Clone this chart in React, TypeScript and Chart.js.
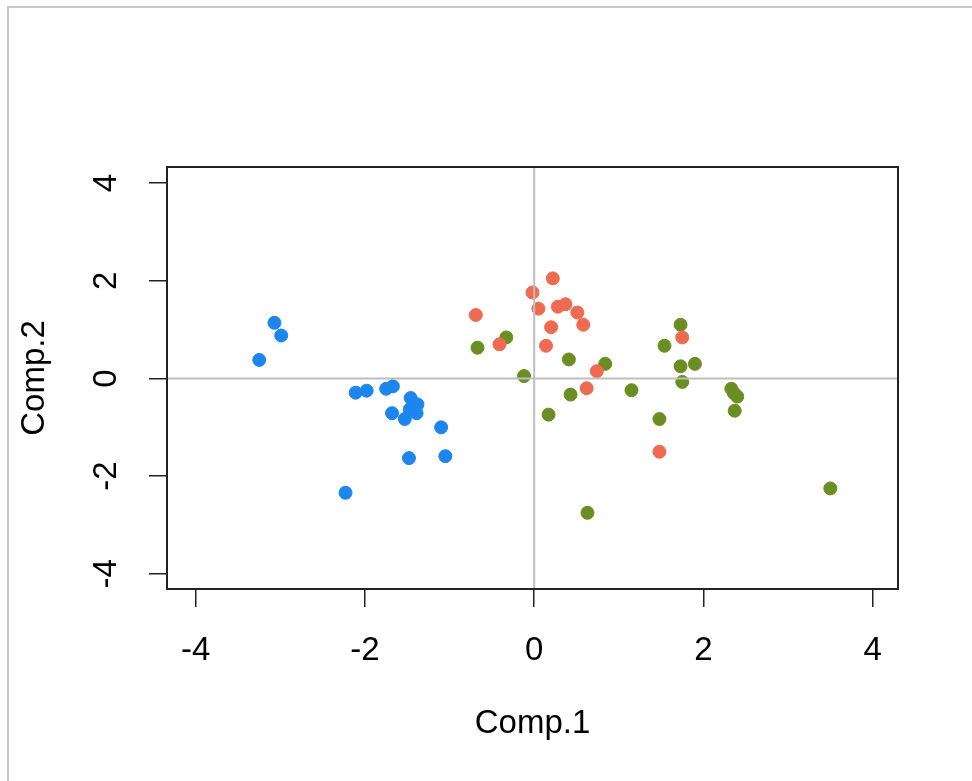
import React, { useEffect, useRef } from "react";
import { Chart, registerables } from "chart.js";

Chart.register(...registerables);

const tickValues = [-4, -2, 0, 2, 4];
const xLabel = "Comp.1";
const yLabel = "Comp.2";

const blueX = [-3.07, -2.99, -3.25, -2.11, -1.98, -1.75, -1.67, -1.46, -1.38, -1.68, -1.53, -1.39, -1.47, -1.10, -1.48, -1.05, -2.23];
const blueY = [1.14, 0.88, 0.38, -0.29, -0.25, -0.21, -0.16, -0.40, -0.53, -0.71, -0.83, -0.71, -0.63, -1.00, -1.63, -1.59, -2.34];

const redX = [0.22, -0.02, 0.05, 0.28, 0.37, 0.51, 0.58, 0.20, 0.14, -0.69, -0.41, 0.74, 0.62, 1.48, 1.75];
const redY = [2.05, 1.76, 1.43, 1.47, 1.52, 1.35, 1.10, 1.05, 0.67, 1.30, 0.70, 0.15, -0.20, -1.50, 0.84];

const greenX = [-0.33, -0.67, -0.12, 0.41, 0.84, 0.43, 0.17, 1.15, 1.48, 0.63, 1.54, 1.73, 1.73, 1.75, 1.90, 2.33, 2.36, 2.40, 2.37, 3.50];
const greenY = [0.84, 0.63, 0.05, 0.39, 0.30, -0.33, -0.74, -0.24, -0.83, -2.75, 0.67, 1.10, 0.25, -0.07, 0.30, -0.21, -0.30, -0.37, -0.66, -2.25];

const toPoints = (xs: number[], ys: number[]) => xs.map((x, i) => ({ x, y: ys[i] }));

const FONT = "'Liberation Sans', Arial, sans-serif";

const boxAndLines = {
  id: "boxAndLines",
  afterDatasetsDraw(chart: any) {
    const { ctx, chartArea, scales } = chart;
    ctx.save();
    ctx.beginPath();
    ctx.rect(chartArea.left, chartArea.top, chartArea.right - chartArea.left, chartArea.bottom - chartArea.top);
    ctx.clip();
    ctx.strokeStyle = "#BEBEBE";
    ctx.lineWidth = 2;
    const x0 = scales.x.getPixelForValue(0);
    const y0 = scales.y.getPixelForValue(0);
    ctx.beginPath();
    ctx.moveTo(x0, chartArea.top);
    ctx.lineTo(x0, chartArea.bottom);
    ctx.moveTo(chartArea.left, y0);
    ctx.lineTo(chartArea.right, y0);
    ctx.stroke();
    ctx.restore();
  },
  afterDraw(chart: any) {
    const { ctx, chartArea } = chart;
    ctx.save();
    ctx.strokeStyle = "#222";
    ctx.lineWidth = 2;
    ctx.strokeRect(chartArea.left, chartArea.top, chartArea.right - chartArea.left, chartArea.bottom - chartArea.top);
    ctx.restore();
  },
};

export default function App() {
  const ref = useRef<HTMLCanvasElement>(null);
  useEffect(() => {
    if (!ref.current) return;
    const ds = (label: string, xs: number[], ys: number[], color: string) => ({
      label,
      data: toPoints(xs, ys),
      backgroundColor: color,
      borderColor: color,
      pointRadius: 6.5,
      pointBorderWidth: 1,
      pointHoverRadius: 6.5,
    });
    const chart = new Chart(ref.current, {
      type: "scatter",
      data: {
        datasets: [
          ds("red", redX, redY, "#EE6A50"),
          ds("green", greenX, greenY, "#6B8E23"),
          ds("blue", blueX, blueY, "#1C86EE"),
        ],
      },
      plugins: [boxAndLines],
      options: {
        animation: false,
        responsive: false,
        maintainAspectRatio: false,
        layout: { padding: { left: 0, top: 159, right: 74, bottom: 0 } },
        plugins: { legend: { display: false }, tooltip: { enabled: false } },
        scales: {
          x: {
            type: "linear",
            min: -4.34,
            max: 4.3,
            afterBuildTicks: (s: any) => {
              s.ticks = tickValues.map((v) => ({ value: v }));
            },
            afterFit: (s: any) => {
              s.height = 185;
            },
            grid: { drawOnChartArea: false, tickLength: 18, color: "#222", lineWidth: 1.5 },
            border: { display: false },
            ticks: {
              color: "#000",
              font: { family: FONT, size: 33 },
              padding: 24,
              maxRotation: 0,
              autoSkip: false,
            },
            title: {
              display: true,
              text: xLabel,
              color: "#000",
              font: { family: FONT, size: 33 },
              padding: { top: 0, bottom: 30 },
            },
          },
          y: {
            type: "linear",
            min: -4.31,
            max: 4.33,
            afterBuildTicks: (s: any) => {
              s.ticks = tickValues.map((v) => ({ value: v }));
            },
            afterFit: (s: any) => {
              s.width = 158;
            },
            grid: { drawOnChartArea: false, tickLength: 18, color: "#222", lineWidth: 1.5 },
            border: { display: false },
            ticks: {
              color: "#000",
              font: { family: FONT, size: 33 },
              padding: 27,
              minRotation: 90,
              maxRotation: 90,
              crossAlign: "center",
              autoSkip: false,
            },
            title: {
              display: true,
              text: yLabel,
              color: "#000",
              font: { family: FONT, size: 33 },
              padding: { top: 6, bottom: 0 },
            },
          },
        },
      },
    });
    return () => chart.destroy();
  }, []);
  return (
    <div
      style={{
        position: "absolute",
        top: 6,
        left: 7,
        borderTop: "2px solid #C8C8C8",
        borderLeft: "2px solid #C8C8C8",
        width: 963,
        height: 773,
        overflow: "hidden",
      }}
    >
      <canvas ref={ref} width={963} height={766} style={{ display: "block" }} />
    </div>
  );
}
